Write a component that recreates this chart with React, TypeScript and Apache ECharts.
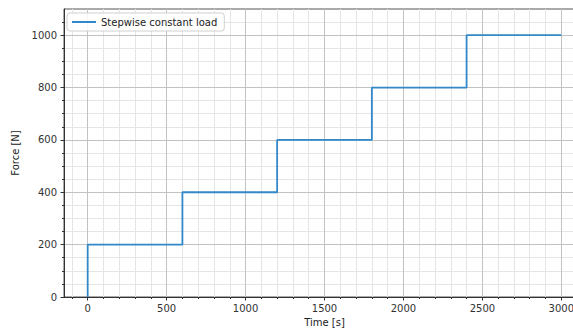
import React, { useEffect, useRef } from "react";
import * as echarts from "echarts";

const seriesName = "Stepwise constant load";
const stepTimes = [0, 600, 1200, 1800, 2400, 3000];
const stepLoads = [0, 200, 400, 600, 800, 1000];

const xMajorTicks = [0, 500, 1000, 1500, 2000, 2500, 3000];
const xMinorTicks = [-100, 100, 200, 300, 400, 600, 700, 800, 900, 1100, 1200, 1300, 1400, 1600, 1700, 1800, 1900, 2100, 2200, 2300, 2400, 2600, 2700, 2800, 2900, 3100];
const yMajorTicks = [0, 200, 400, 600, 800, 1000];
const yMinorTicks = [50, 100, 150, 250, 300, 350, 450, 500, 550, 650, 700, 750, 850, 900, 950, 1050];

const xMin = -150;
const xMax = 3150;
const yMin = 0;
const yMax = 1100;

const FONT = "DejaVu Sans";

export default function App() {
  const ref = useRef<HTMLDivElement>(null);
  useEffect(() => {
    if (!ref.current) return;
    const chart = echarts.init(ref.current, null, { renderer: "svg" });
    const minorStyle = { color: "#e5e5e5", width: 1, type: "solid" as const };
    const majorStyle = { color: "#c2c2c2", width: 1, type: "solid" as const };
    const gridMinor = [
      ...xMinorTicks.map((v) => ({ xAxis: v, lineStyle: minorStyle })),
      ...yMinorTicks.map((v) => ({ yAxis: v, lineStyle: minorStyle })),
    ];
    const gridMajor = [
      ...xMajorTicks.map((v) => ({ xAxis: v, lineStyle: majorStyle })),
      ...yMajorTicks.filter((v) => v !== yMin).map((v) => ({ yAxis: v, lineStyle: majorStyle })),
    ];
    const markCommon = {
      silent: true,
      symbol: ["none", "none"],
      label: { show: false },
      emphasis: { disabled: true },
      animation: false,
      z: 1,
    };
    const fmt = (v: number) => String(v);
    chart.setOption({
      animation: false,
      backgroundColor: "#ffffff",
      textStyle: { fontFamily: FONT },
      grid: {
        left: 64,
        top: 9,
        width: 521,
        bottom: 32,
        containLabel: false,
        outerBoundsMode: "none",
        show: true,
        borderColor: "#555555",
        borderWidth: 1,
        backgroundColor: "transparent",
      },
      legend: {
        data: [seriesName],
        left: 67,
        top: 13,
        orient: "vertical",
        padding: [4, 7, 4, 5],
        itemWidth: 24,
        itemHeight: 2,
        icon: "rect",
        borderColor: "#d0d0d0",
        borderWidth: 1,
        borderRadius: 3,
        backgroundColor: "rgba(255,255,255,0.85)",
        textStyle: { fontFamily: FONT, fontSize: 10, color: "#222222" },
        z: 10,
      },
      xAxis: [
        {
          type: "value",
          min: xMin,
          max: xMax,
          z: 3,
          name: "Time [s]",
          nameLocation: "middle",
          nameGap: 20,
          nameTextStyle: { fontFamily: FONT, fontSize: 10, color: "#222222" },
          axisLine: { show: true, onZero: false, lineStyle: { color: "#333333", width: 1 } },
          axisTick: { show: true, length: 3.5, customValues: xMajorTicks, lineStyle: { color: "#333333" } },
          axisLabel: { show: true, customValues: xMajorTicks, formatter: fmt, margin: 6, fontFamily: FONT, fontSize: 10, color: "#333333" },
          splitLine: { show: false },
        },
        {
          type: "value",
          min: xMin,
          max: xMax,
          position: "bottom",
          z: 3,
          axisLine: { show: false, onZero: false },
          axisTick: { show: true, length: 2, customValues: xMinorTicks, lineStyle: { color: "#333333" } },
          axisLabel: { show: false },
          splitLine: { show: false },
        },
      ],
      yAxis: [
        {
          type: "value",
          min: yMin,
          max: yMax,
          z: 3,
          name: "Force [N]",
          nameLocation: "middle",
          nameGap: 33,
          nameTextStyle: { fontFamily: FONT, fontSize: 10, color: "#222222" },
          axisLine: { show: true, onZero: false, lineStyle: { color: "#333333", width: 1 } },
          axisTick: { show: true, length: 3.5, customValues: yMajorTicks, lineStyle: { color: "#333333" } },
          axisLabel: { show: true, customValues: yMajorTicks, formatter: fmt, margin: 7, fontFamily: FONT, fontSize: 10, color: "#333333" },
          splitLine: { show: false },
        },
        {
          type: "value",
          min: yMin,
          max: yMax,
          position: "left",
          z: 3,
          axisLine: { show: false, onZero: false },
          axisTick: { show: true, length: 2, customValues: yMinorTicks, lineStyle: { color: "#333333" } },
          axisLabel: { show: false },
          splitLine: { show: false },
        },
      ],
      series: [
        {
          name: "minorGrid",
          type: "line",
          data: [],
          xAxisIndex: 0,
          yAxisIndex: 0,
          z: 1,
          markLine: { ...markCommon, data: gridMinor },
        },
        {
          name: "majorGrid",
          type: "line",
          data: [],
          xAxisIndex: 0,
          yAxisIndex: 0,
          z: 1,
          markLine: { ...markCommon, z: 2, data: gridMajor },
        },
        {
          name: seriesName,
          type: "line",
          step: "start",
          xAxisIndex: 0,
          yAxisIndex: 0,
          data: stepTimes.map((t, i) => [t, stepLoads[i]]),
          showSymbol: false,
          symbol: "none",
          color: "#3189c9",
          lineStyle: { color: "#3189c9", width: 1.8 },
          z: 5,
        },
      ],
    });
    return () => chart.dispose();
  }, []);
  return (
    <div
      ref={ref}
      style={{ position: "absolute", left: 0, top: 0, width: 573, height: 329, overflow: "hidden" }}
    />
  );
}
